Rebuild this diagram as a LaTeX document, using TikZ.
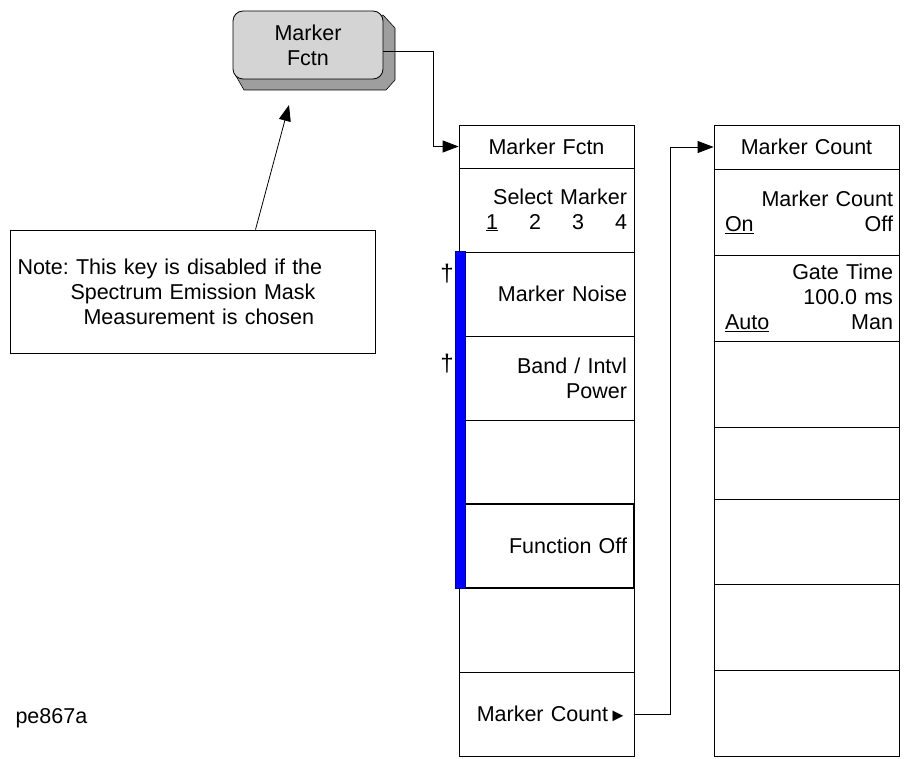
\documentclass[tikz,border=0pt]{standalone}
\usepackage{fontspec}
\setmainfont{Liberation Sans}
\frenchspacing
\usetikzlibrary{positioning, arrows.meta}

\begin{document}
\begin{tikzpicture}[x=1pt, y=-1pt]
	% Styles
	\tikzset{
		keyfont/.style={font=\fontsize{21.5}{25}\selectfont},
		softkey/.style={draw, line width=0.8pt, keyfont, minimum width=175pt, minimum height=84pt, text width=161pt, inner xsep=7pt, align=right},
		widekey/.style={softkey, minimum width=185pt, text width=173pt, inner xsep=6pt},
		keyhead/.style={softkey, align=center, minimum height=43pt},
		link/.style={-{Triangle[length=16pt, width=12pt]}, line width=0.8pt}
	}
	\useasboundingbox (0,0) rectangle (909,759);

	% Front panel key with its shadow
	\filldraw[fill=black!38, draw=black, line width=0.6pt] (236,76) -- (244,90) -- (386,90) -- (395,80) -- (395,28) -- (383,15) -- cycle;
	\node[draw, line width=0.8pt, rounded corners=10pt, fill=black!17, keyfont, minimum width=150pt, minimum height=68pt, align=center] (fctnkey) at (308,45) {Marker\\Fctn};

	% Note box
	\node[draw, line width=0.8pt, keyfont, minimum width=365pt, minimum height=123pt, text width=350pt, align=left] (note) at (192.5,291.5) {Note: This key is disabled if the\\\hspace*{53pt}Spectrum Emission Mask\\\hspace*{66pt}Measurement is chosen};

	% Menu: Marker Fctn
	\node[keyhead] (mf0) at (546.5,146.5) {Marker Fctn};
	\node[softkey] (mf1) at (546.5,210) {Select Marker\\\underline{1}\hspace{31pt}2\hspace{31pt}3\hspace{31pt}4};
	\node[softkey] (mf2) at (546.5,294) {Marker Noise};
	\node[softkey] (mf3) at (546.5,378) {Band / Intvl\\Power};
	\node[softkey] (mf4) at (546.5,462) {};
	\node[softkey, line width=2.5pt] (mf5) at (546.5,546) {Function Off};
	\node[softkey] (mf6) at (546.5,630) {};
	\node[softkey] (mf7) at (546.5,714) {Marker Count\hspace{1pt}{\fontsize{18}{18}\selectfont ►}\hspace*{-5pt}};

	% Menu: Marker Count
	\node[widekey, align=center, minimum height=44pt] (mc0) at (806.5,147) {Marker Count};
	\node[widekey, minimum height=86pt] (mc1) at (806.5,212) {Marker Count\\\hspace*{5pt}\underline{On}\hfill Off};
	\node[widekey, minimum height=86pt] (mc2) at (806.5,298) {Gate Time\\100.0 ms\\\hspace*{5pt}\underline{Auto}\hfill Man};
	\node[widekey, minimum height=86pt] (mc3) at (806.5,384) {};
	\node[widekey, minimum height=72pt] (mc4) at (806.5,463) {};
	\node[widekey, minimum height=85pt] (mc5) at (806.5,541.5) {};
	\node[widekey, minimum height=86pt] (mc6) at (806.5,627) {};
	\node[widekey, minimum height=86pt] (mc7) at (806.5,713) {};

	% Blue bar and daggers
	\filldraw[fill=blue, draw=blue!60!black, line width=0.5pt] (455,251) rectangle (465,588);
	\node[font=\fontsize{24}{25}\selectfont] (dagA) at (447,274) {†};
	\node[font=\fontsize{24}{25}\selectfont] (dagB) at (447,364) {†};

	% Connectors
	\coordinate (bendA) at (433,146.5);
	\draw[link] ([yshift=-6pt]fctnkey.east) -| (bendA) -- (mf0.west);
	\coordinate (bendB) at (670,147);
	\draw[link] (mf7.east) -| (bendB) -- (mc0.west);
	\coordinate (noteTip) at (289,105);
	\draw[link] ([xshift=63pt]note.north) -- (noteTip);

	% Figure id
	\node[keyfont, anchor=west] (figid) at (12,718) {pe867a};
\end{tikzpicture}
\end{document}
